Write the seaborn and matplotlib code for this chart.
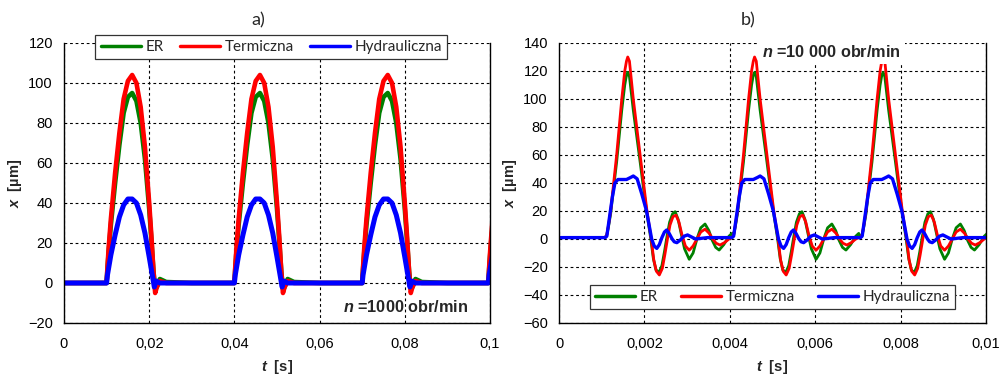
import matplotlib.pyplot as plt
import seaborn as sns
import numpy as np
import pandas as pd

sns.set_theme(style="white")
plt.rcParams["font.family"] = ["Liberation Sans", "DejaVu Sans"]
plt.rcParams["mathtext.fontset"] = "custom"
plt.rcParams["mathtext.rm"] = "Liberation Sans:bold"
plt.rcParams["mathtext.bfit"] = "Liberation Sans:bold:italic"

names = ["ER", "Termiczna", "Hydrauliczna"]
colors = ["#008000", "#ff0000", "#0000ff"]

# a) n = 1000 obr/min - one pulse profile (time from pulse start)
a_starts = [0.0100, 0.0400, 0.0700, 0.0996]
a_tau_er = [0, 0.0002, 0.0005, 0.0010, 0.0020, 0.0030, 0.0040, 0.0050, 0.0060,
            0.0070, 0.0080, 0.0090, 0.0100, 0.0105, 0.0110, 0.0114, 0.0118, 0.0125, 0.0140, 0.0200]
a_er = [0, 7, 16, 29, 50, 69, 85, 93, 95, 91, 80, 62, 37, 22, 6, -3, -2, 2, 0.5, 0]
a_tau_t = [0, 0.0002, 0.0005, 0.0010, 0.0020, 0.0030, 0.0040, 0.0050, 0.0060,
           0.0070, 0.0080, 0.0090, 0.0100, 0.0105, 0.0110, 0.0114, 0.0118, 0.0125, 0.0140, 0.0200]
a_t = [0, 8, 18, 32, 55, 75, 92, 101, 104, 100, 88, 68, 40, 24, 6, -5, -2, 1, 0, 0]
a_tau_h = [0, 0.0002, 0.0010, 0.0020, 0.0030, 0.0040, 0.0050, 0.0060, 0.0070,
           0.0080, 0.0090, 0.0100, 0.0108, 0.0112, 0.0116, 0.0125, 0.0200]
a_h = [0, 4, 14, 24, 33, 39, 42, 42, 40, 34, 25, 13, 3, -2, 1, 0, 0]

# b) n = 10 000 obr/min
b_starts = [0.00108, 0.00405, 0.00706]
b_tau_er = [0, 0.00004, 0.00008, 0.00013, 0.00020, 0.00027, 0.00039, 0.00046, 0.00050,
            0.00053, 0.00057, 0.00066, 0.00082, 0.00090, 0.00098, 0.00107, 0.00113, 0.00119,
            0.00126, 0.00133, 0.00139, 0.00145, 0.00151, 0.00158, 0.00164, 0.00171, 0.00178,
            0.00186, 0.00197, 0.00206, 0.00215, 0.00224, 0.00234, 0.00243, 0.00251, 0.00259,
            0.00267, 0.00278, 0.00290, 0.00297]
b_er = [1, 3, 9, 18, 37, 55, 92, 110, 117, 119, 116, 92, 55, 36, 18, 0, -14, -22,
        -24, -19, -9, 2, 12, 18, 19.5, 14, 4, -7, -14.5, -10, 0, 8, 10.7, 6, -1, -6,
        -7.9, -4, 2, 4]
b_tau_t = [0, 0.00004, 0.00008, 0.00013, 0.00020, 0.00027, 0.00039, 0.00046, 0.00050,
           0.00053, 0.00057, 0.00066, 0.00082, 0.00090, 0.00098, 0.00108, 0.00114, 0.00120,
           0.00127, 0.00134, 0.00140, 0.00146, 0.00152, 0.00159, 0.00166, 0.00173, 0.00180,
           0.00188, 0.00197, 0.00206, 0.00215, 0.00224, 0.00234, 0.00244, 0.00252, 0.00260,
           0.00269, 0.00280, 0.00290, 0.00297]
b_t = [1, 3, 10, 20, 40, 60, 100, 120, 127, 130, 127, 100, 60, 40, 20, 0, -15, -23,
       -25.7, -21, -11, 0, 10, 16, 17, 12, 3, -5, -8, -5, 0, 5, 7, 4, 0, -3,
       -4.3, -2.5, 0, 1]
b_tau_h = [0, 0.00004, 0.00010, 0.00017, 0.00023, 0.00030, 0.00050, 0.00060, 0.00066,
           0.00075, 0.00086, 0.00097, 0.00103, 0.00109, 0.00115, 0.00121, 0.00127, 0.00133,
           0.00139, 0.00144, 0.00150, 0.00157, 0.00162, 0.00168, 0.00175, 0.00185, 0.00193,
           0.00202, 0.00212, 0.00240, 0.00295]
b_h = [1, 2, 15, 30, 40, 42.5, 42.5, 44, 45, 43, 32, 20, 10, 0, -5, -6.7, -4, 1,
       5, 6.4, 4, 0, -2, -2.6, -1, 2, 2.9, 1.5, 0, 1, 1]


def build(starts, profiles, base):
    rows = []
    for name, (tau, vals) in zip(names, profiles):
        rows.append((0.0, base, name))
        for s in starts:
            for tt, v in zip(tau, vals):
                rows.append((s + tt, v, name))
    return pd.DataFrame(rows, columns=["t", "x", "seria"])


df_a = build(a_starts, [(a_tau_er, a_er), (a_tau_t, a_t), (a_tau_h, a_h)], 0)
df_b = build(b_starts, [(b_tau_er, b_er), (b_tau_t, b_t), (b_tau_h, b_h)], 1)

fig = plt.figure(figsize=(10.08, 3.83), dpi=100)
ax1 = fig.add_axes([64 / 1008, 60 / 383, 426 / 1008, 280 / 383])
ax2 = fig.add_axes([559 / 1008, 60 / 383, 427 / 1008, 280 / 383])


def draw(ax, df, lw, lw_h):
    for name, c in zip(names, colors):
        d = df[df["seria"] == name].sort_values("t")
        sns.lineplot(data=d, x="t", y="x", color=c, label=name, sort=False,
                     estimator=None, lw=lw_h if name == "Hydrauliczna" else lw, ax=ax)


draw(ax1, df_a, 3.3, 3.6)
draw(ax2, df_b, 2.0, 2.4)

for ax in (ax1, ax2):
    ax.grid(True, color="black", linestyle=(0, (2.5, 2.5)), lw=0.8)
    ax.spines["top"].set_visible(False)
    for s in ["left", "bottom", "right"]:
        ax.spines[s].set_color("black")
        ax.spines[s].set_linewidth(1.0)
    ax.tick_params(length=0, labelsize=10.5, colors="black")
    ax.tick_params(axis="x", pad=10)
    ax.tick_params(axis="y", pad=8)
    ax.set_xlabel(r"$\mathbfit{t}$  [s]", fontsize=10.5, fontweight="bold", labelpad=5)
    ax.set_ylabel(r"$\mathbfit{x}$  [µm]", fontsize=10.5, fontweight="bold", labelpad=3)

ax1.set_xlim(0, 0.1)
ax1.set_ylim(-20, 120)
ax1.set_xticks([0, 0.02, 0.04, 0.06, 0.08, 0.1])
ax1.set_xticklabels(["0", "0,02", "0,04", "0,06", "0,08", "0,1"])
ax1.set_yticks(np.arange(-20, 121, 20))

ax2.set_xlim(0, 0.01)
ax2.set_ylim(-60, 140)
ax2.set_xticks([0, 0.002, 0.004, 0.006, 0.008, 0.01])
ax2.set_xticklabels(["0", "0,002", "0,004", "0,006", "0,008", "0,01"])
ax2.set_yticks(np.arange(-60, 141, 20))

leg_kw = dict(ncol=3, mode="expand", loc="lower left", fancybox=False, framealpha=1,
              edgecolor="#333333", prop={"family": "Lato", "size": 11},
              handlelength=2.6, handletextpad=0.3, borderpad=0.35)
l1 = ax1.legend(bbox_to_anchor=(0.056, 0.914, 0.862, 0.122), **leg_kw)
l2 = ax2.legend(bbox_to_anchor=(0.054, 0.021, 0.892, 0.108), **leg_kw)
for lg in (l1, l2):
    lg.get_frame().set_linewidth(0.9)
    lg.set_zorder(10)
    for h in lg.get_lines():
        h.set_linewidth(2.5)

ax1.text(0.948, 0.057, r"$\mathbfit{n}$ =1000 obr/min", transform=ax1.transAxes,
         ha="right", va="center", fontsize=11.7, fontweight="bold", zorder=11)
ax2.text(0.638, 0.968, r"$\mathbfit{n}$ =10 000 obr/min", transform=ax2.transAxes,
         ha="center", va="center", fontsize=11.7, fontweight="bold", zorder=11,
         bbox=dict(facecolor="white", edgecolor="none", pad=2.8))

fig.text(258 / 1008, 1 - 20 / 383, "a)", ha="center", va="center", fontsize=13, family="Lato")
fig.text(748 / 1008, 1 - 20 / 383, "b)", ha="center", va="center", fontsize=13, family="Lato")

fig.savefig("out.png", dpi=100)
